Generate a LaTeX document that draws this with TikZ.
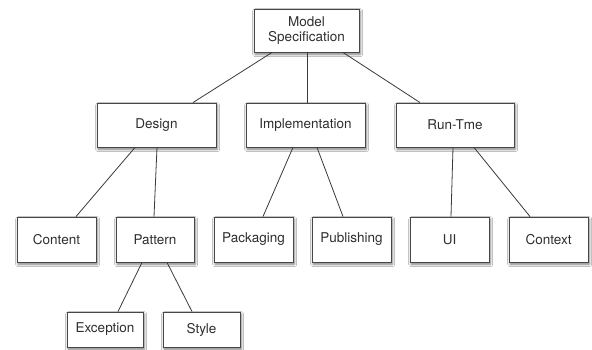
\documentclass[tikz,border=0pt]{standalone}
\usepackage{fontspec}
\setmainfont{TeX Gyre Heros}
\usetikzlibrary{shadows.blur}
\definecolor{boxline}{HTML}{474747}
\definecolor{boxtext}{HTML}{2E2E2E}
\definecolor{linkline}{HTML}{3A3A3A}
\tikzset{
  box/.style={draw=boxline, line width=0.9pt, fill=white, inner sep=0pt,
    text=boxtext, font=\fontsize{13.5}{15}\selectfont, align=center,
    blur shadow={shadow xshift=1.2pt, shadow yshift=-2.2pt,
      shadow blur radius=2.5pt, shadow opacity=55}},
  link/.style={draw=linkline, line width=0.8pt}
}
\begin{document}
\begin{tikzpicture}[x=1pt, y=-1pt]
\useasboundingbox[fill=white] (0,0) rectangle (592,350);

% tree of boxes
\node[box, minimum width=105pt, minimum height=43pt] (model) at (306.5,30.5) {Model\\Specification};

\node[box, minimum width=119pt, minimum height=44pt] (design) at (156.5,125) {Design};
\node[box, minimum width=119pt, minimum height=44pt] (impl) at (305.5,125) {Implementation};
\node[box, minimum width=118pt, minimum height=44pt] (runtme) at (455,125) {Run-Tme};

\node[box, minimum width=79pt, minimum height=45pt] (content) at (56.5,239.5) {Content};
\node[box, minimum width=78pt, minimum height=45pt] (pattern) at (155,239.5) {Pattern};
\node[box, minimum width=79pt, minimum height=45pt] (packaging) at (253.5,239.5) {Packaging};
\node[box, minimum width=79pt, minimum height=45pt] (publishing) at (351.5,239.5) {Publishing};
\node[box, minimum width=79pt, minimum height=45pt] (ui) at (449.5,239.5) {UI};
\node[box, minimum width=79pt, minimum height=45pt] (context) at (548.5,239.5) {Context};

\node[box, minimum width=76pt, minimum height=35pt] (exception) at (105,329.5) {Exception};
\node[box, minimum width=77pt, minimum height=35pt] (style) at (201.5,329.5) {Style};

% connectors
\draw[link] ([xshift=-34.5]model.south) -- ([xshift=36.5]design.north);
\draw[link] ([xshift=0.5]model.south) -- ([xshift=1.5]impl.north);
\draw[link] ([xshift=36.5]model.south) -- ([xshift=-35]runtme.north);

\draw[link] ([xshift=-21.5]design.south) -- ([xshift=19.5]content.north);
\draw[link] ([xshift=0.5]design.south) -- ([xshift=-1]pattern.north);
\draw[link] ([xshift=-12.5]impl.south) -- ([xshift=9.5]packaging.north);
\draw[link] ([xshift=11.5]impl.south) -- ([xshift=-8.5]publishing.north);
\draw[link] ([xshift=-2]runtme.south) -- ([xshift=1.5]ui.north);
\draw[link] ([xshift=19]runtme.south) -- ([xshift=-18.5]context.north);

\draw[link] ([xshift=-13]pattern.south) -- ([xshift=13]exception.north);
\draw[link] ([xshift=12]pattern.south) -- ([xshift=-9.5]style.north);
\end{tikzpicture}
\end{document}
